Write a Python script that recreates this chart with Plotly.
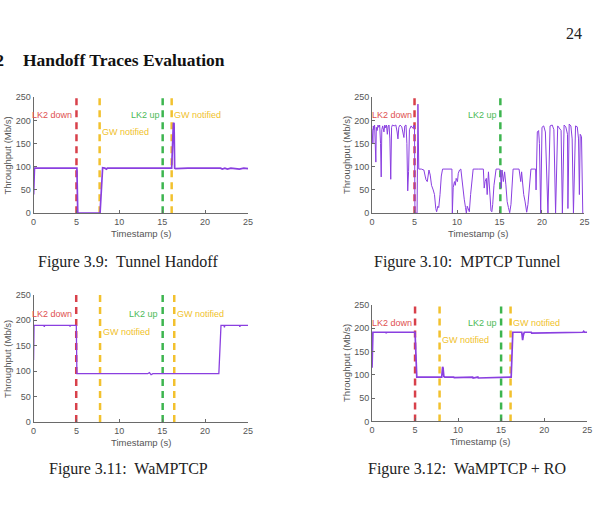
import plotly.graph_objects as go

W, H = 603, 511

# ---------------- data ----------------
# Fig 3.9 Tunnel Handoff
t_tunnel = [0, 0.05, 0.1, 5.05, 5.15, 7.75, 8.05, 8.3, 8.5, 8.6, 10, 12, 14, 16.1, 16.3, 16.38, 16.45, 16.55,
            18, 20, 21.8, 22.0, 22.3, 22.6, 23.0, 23.5, 24.0, 24.5, 25]
v_tunnel = [40, 97, 97, 97, 0, 0, 98, 97, 95, 97, 97, 97, 97, 97, 195, 193, 97, 96,
            97, 97, 97, 95, 97, 95, 97, 96, 95, 97, 96]

# Fig 3.10 MPTCP Tunnel
t_mptcp = [0.0, 0.1, 0.15, 0.2, 0.3, 0.4, 0.45, 0.5, 0.6, 0.7, 0.8, 0.9, 1.0, 1.08, 1.15, 1.25, 1.4, 1.5,
           1.6, 1.7, 1.8, 1.9, 2.0, 2.1, 2.2, 2.3, 2.4, 2.6, 2.8, 2.95, 3.05, 3.15, 3.3, 3.5, 3.65, 3.75,
           3.85, 4.0, 4.1, 4.2, 4.3, 4.4, 4.6, 4.8, 4.95, 5.0, 5.05, 5.3, 5.4, 5.5, 5.8, 6.1, 6.25, 6.35,
           6.5, 6.6, 6.7, 6.85, 7.0, 7.2, 7.35, 7.5, 7.6, 7.75, 7.85, 8.0, 8.15, 8.3, 9.0, 9.4, 9.45, 9.55,
           9.7, 9.8, 9.9, 10.05, 10.15, 10.3, 10.45, 10.6, 10.7, 10.85, 11.0, 11.1, 11.2, 11.35, 11.45,
           11.6, 11.75, 11.9, 12.5, 13.1, 13.2, 13.3, 13.45, 13.55, 13.7, 13.85, 14.0, 14.1, 14.2, 14.35,
           14.45, 14.6, 15.0, 15.1, 15.2, 15.3, 15.45, 15.6, 15.75, 15.9, 16.05, 16.2, 16.35, 16.5, 16.6,
           17.3, 17.4, 17.5, 17.6, 17.7, 17.85, 18.0, 18.1, 18.2, 18.35, 18.5, 18.6, 18.7, 19.25, 19.3,
           19.45, 19.6, 19.7, 19.85, 20.0, 20.2, 20.4, 20.5, 20.7, 20.95, 21.2, 21.4, 21.6, 21.85, 22.05,
           22.25, 22.4, 22.6, 22.8, 23.0, 23.05, 23.2, 23.4, 23.55, 23.7, 23.95, 24.15, 24.3, 24.4, 24.5,
           24.65, 24.8]
v_mptcp = [182, 150, 188, 180, 190, 140, 110, 185, 178, 190, 185, 190, 150, 78, 180, 188, 175, 190,
           184, 190, 170, 188, 190, 160, 73, 185, 190, 188, 190, 175, 160, 185, 190, 186, 175, 163,
           188, 190, 150, 48, 90, 180, 188, 183, 190, 188, 0, 0, 235, 95, 95, 93, 80, 72,
           68, 85, 93, 82, 60, 50, 40, 10, 3, 15, 12, 40, 80, 95, 95, 95, 0, 55,
           68, 60, 75, 68, 86, 93, 95, 70, 47, 30, 12, 0, 15, 8, 3,
           40, 68, 95, 95, 95, 54, 68, 75, 40, 89, 37, 5, 3, 19, 60,
           75, 95, 95, 93, 54, 93, 68, 89, 61, 25, 12, 1, 19, 70, 95,
           95, 82, 68, 89, 61, 40, 26, 5, 2, 19, 60, 89, 95, 95, 50,
           175, 178, 150, 0, 185, 188, 175, 120, 0, 188, 190, 180, 0, 188, 184,
           178, 0, 190, 186, 170, 10, 192, 188, 160, 0, 188, 186, 160, 40, 170,
           165, 0]

# Fig 3.11 WaMPTCP
t_wam = [0, 0.05, 1.2, 1.25, 1.3, 4.2, 4.25, 4.3, 4.98, 5.05, 5.2, 13.3, 13.5, 13.7, 13.9, 21.6, 21.85,
         21.9, 22.2, 22.25, 22.3, 24.0, 24.05, 24.1, 25]
v_wam = [122, 190, 190, 187, 190, 190, 188, 190, 190, 95, 95, 95, 97, 93, 95, 95, 190,
         190, 190, 186, 190, 190, 187, 190, 190]

# Fig 3.12 WaMPTCP + RO
t_ro = [0, 0.1, 1.6, 1.65, 1.7, 5.0, 5.2, 5.3, 8.1, 8.2, 8.25, 8.35, 8.45, 9.5, 9.55, 11.7, 11.75,
        12.3, 12.35, 16.17, 16.36, 17.4, 17.5, 17.6, 17.7, 18.5, 18.55, 24.5, 24.6, 24.7, 25]
v_ro = [115, 191, 191, 189, 191, 191, 95, 95, 95, 117, 115, 96, 95, 95, 94, 95, 93,
        95, 93, 95, 191, 191, 174, 186, 191, 191, 189, 191, 193, 191, 191]

# event times (vertical dashed markers)
ev_tunnel_t = [5.0, 7.7, 15.05, 16.1]
ev_tunnel_k = ["down", "gw", "up", "gw"]
ev_mptcp_t = [5.0, 15.1]
ev_mptcp_k = ["down", "up"]
ev_wam_t = [4.97, 7.75, 15.05, 16.4]
ev_wam_k = ["down", "gw", "up", "gw"]
ev_ro_t = [5.0, 7.85, 15.0, 16.1]
ev_ro_k = ["down", "gw", "up", "gw"]

label_text = {"down": "LK2 down", "up": "LK2 up", "gw": "GW notified"}

x_ticks = [0, 5, 10, 15, 20, 25]
y_ticks = [0, 50, 100, 150, 200, 250]

captions = ["Figure 3.9:\u00a0 Tunnel Handoff", "Figure 3.10:\u00a0 MPTCP Tunnel",
            "Figure 3.11:\u00a0 WaMPTCP", "Figure 3.12:\u00a0 WaMPTCP + RO"]

# ---------------- styling ----------------
LINE_C = "#8a3fe0"
DASH_C = {"down": "#d8404a", "gw": "#f2c12e", "up": "#3db54f"}
TEXT_C = {"down": "#e0504f", "gw": "#f0bf2c", "up": "#4cba58"}
AX_C = "#6a6a6a"
TICK_C = "#555555"
SANS = "Liberation Sans, Arial, sans-serif"
SERIF = "Liberation Serif, Times New Roman, serif"


def X(px):
    return px / W


def Y(py):
    return 1 - py / H


# panel pixel boxes: (left, right, top, bottom)
boxes = [(31, 248.3, 94, 212.3), (374, 589.3, 94, 212.3),
         (31, 248.3, 295.7, 425.3), (374, 592, 305.7, 424.7)]

series = [(t_tunnel, v_tunnel, 1.7), (t_mptcp, v_mptcp, 1.0), (t_wam, v_wam, 1.3), (t_ro, v_ro, 1.7)]
events = [(ev_tunnel_t, ev_tunnel_k), (ev_mptcp_t, ev_mptcp_k), (ev_wam_t, ev_wam_k), (ev_ro_t, ev_ro_k)]

# label placements (x, y, anchor) per panel, in data units, order matching events
label_pos = [
    [(4.65, 211, "right"), (7.9, 174, "left"), (14.8, 211, "right"), (16.25, 211, "left")],
    [(4.8, 211, "right"), (14.8, 211, "right")],
    [(4.55, 212, "right"), (7.95, 177, "left"), (14.65, 212, "right"), (16.6, 212, "left")],
    [(4.75, 211, "right"), (8.05, 174, "left"), (14.65, 211, "right"), (16.3, 211, "left")],
]

fig = go.Figure()
layout = dict(width=W, height=H, margin=dict(l=0, r=0, t=0, b=0),
              paper_bgcolor="white", plot_bgcolor="white", showlegend=False)
annotations = []

for i, ((l, r, tp, bt), (tt, vv, lw), (evt, evk), lp) in enumerate(zip(boxes, series, events, label_pos)):
    n = "" if i == 0 else str(i + 1)
    xa, ya = "x" + n, "y" + n
    layout["xaxis" + n] = dict(domain=[X(l), X(r)], anchor=ya, range=[0, 25], tickvals=x_ticks,
                               showline=True, linecolor=AX_C, linewidth=1, ticks="inside", ticklen=3,
                               tickcolor=AX_C, showgrid=False, zeroline=False,
                               tickfont=dict(family=SANS, size=9, color=TICK_C))
    layout["yaxis" + n] = dict(domain=[Y(bt), Y(tp)], anchor=xa, range=[0, 250], tickvals=y_ticks,
                               showline=True, linecolor=AX_C, linewidth=1, ticks="inside", ticklen=3,
                               tickcolor=AX_C, showgrid=False, zeroline=False,
                               tickfont=dict(family=SANS, size=9, color=TICK_C))
    for t, k in zip(evt, evk):
        fig.add_trace(go.Scatter(x=[t, t], y=[0, 250], mode="lines", xaxis=xa, yaxis=ya,
                                 line=dict(color=DASH_C[k], width=2.5, dash="7px,5px"),
                                 hoverinfo="skip", cliponaxis=False))
    fig.add_trace(go.Scatter(x=tt, y=vv, mode="lines", xaxis=xa, yaxis=ya,
                             line=dict(color=LINE_C, width=lw), cliponaxis=False))
    for k, (px_, py_, anc) in zip(evk, lp):
        annotations.append(dict(x=px_, y=py_, xref=xa, yref=ya, text=label_text[k], showarrow=False,
                                xanchor=anc, yanchor="middle", borderpad=0,
                                font=dict(family=SANS, size=9, color=TEXT_C[k])))
    # axis titles
    annotations.append(dict(x=X(l - 26.5), y=Y((tp + bt) / 2), xref="paper", yref="paper",
                            text="Throughput (Mb/s)", textangle=-90, showarrow=False,
                            xanchor="center", yanchor="middle",
                            font=dict(family=SANS, size=9.5, color=TICK_C)))
    annotations.append(dict(x=X((l + r) / 2), y=Y(bt + 21), xref="paper", yref="paper",
                            text="Timestamp (s)", showarrow=False, xanchor="center", yanchor="middle",
                            font=dict(family=SANS, size=9.5, color=TICK_C)))

# captions
cap_pos = [(127, 262), (471, 262), (127, 473), (470, 473)]
for txt, (cx, cy) in zip(captions, cap_pos):
    annotations.append(dict(x=X(cx), y=Y(cy), xref="paper", yref="paper", text=txt, showarrow=False,
                            xanchor="center", yanchor="middle",
                            font=dict(family=SERIF, size=16, color="#222222")))

# page header and section title
annotations.append(dict(x=X(578.5), y=Y(29), xref="paper", yref="paper", text="24", showarrow=False,
                        xanchor="center", yanchor="middle", font=dict(family=SERIF, size=16, color="#222222")))
annotations.append(dict(x=X(3), y=Y(56), xref="paper", yref="paper", text="<b>3.2</b>", showarrow=False,
                        xanchor="right", yanchor="middle", font=dict(family=SERIF, size=17.5, color="#111111")))
annotations.append(dict(x=X(18), y=Y(56), xref="paper", yref="paper", text="<b>Handoff Traces Evaluation</b>",
                        showarrow=False, xanchor="left", yanchor="middle",
                        font=dict(family=SERIF, size=17.5, color="#111111")))

layout["annotations"] = annotations
fig.update_layout(**layout)
fig.write_html("out.html")
